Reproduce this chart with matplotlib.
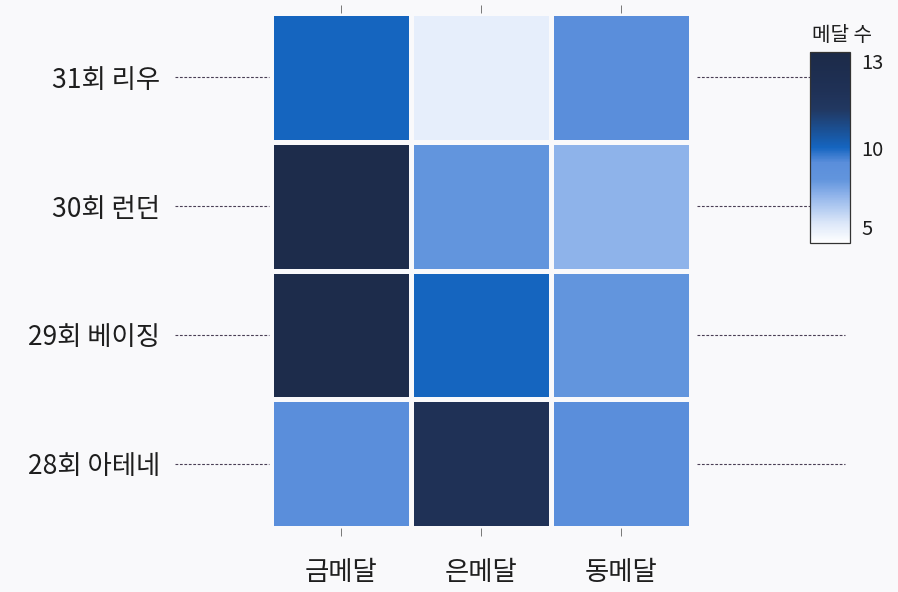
import numpy as np
import matplotlib.pyplot as plt
from matplotlib.colors import LinearSegmentedColormap, TwoSlopeNorm
from matplotlib.transforms import blended_transform_factory

plt.rcParams['font.family'] = ['Noto Sans CJK KR', 'DejaVu Sans']

games = ['28회 아테네', '29회 베이징', '30회 런던', '31회 리우']
medals = ['금메달', '은메달', '동메달']
# rows follow games (bottom to top), columns follow medals
gold = [9, 13, 13, 10]
silver = [12, 10, 8, 3]
bronze = [9, 8, 7, 9]

counts = np.array([gold, silver, bronze]).T

cmap = LinearSegmentedColormap.from_list(
    'medal', [(0.0, '#ffffff'), (0.1, '#dde8f9'), (0.25, '#8fb3ea'),
              (0.33, '#6295dd'), (0.42, '#5a8edb'), (0.5, '#1565c0'),
              (0.7, '#213861'), (0.8, '#1f3156'), (1.0, '#1c2a48')])
cmap.set_under('#e6eefb')
norm = TwoSlopeNorm(vmin=4, vcenter=10, vmax=13.3)

bg = '#f9f9fb'
fig = plt.figure(figsize=(8.98, 5.92), dpi=100, facecolor=bg)
ax = fig.add_axes([0.3018, 0.108, 0.4677, 0.870])
ax.set_facecolor(bg)

mesh = ax.pcolormesh(np.arange(len(medals) + 1) - 0.5, np.arange(len(games) + 1) - 0.5,
                     counts, cmap=cmap, norm=norm, edgecolors=bg, linewidth=2.2)
ax.set_xlim(-0.5, len(medals) - 0.5)
ax.set_ylim(-0.5, len(games) - 0.5)
for s in ax.spines.values():
    s.set_visible(False)

ax.set_xticks(range(len(medals)), medals, fontsize=19, color='#1e1e1e')
ax.tick_params(axis='x', top=True, bottom=True, length=6, width=0.7,
               color='#777777', pad=16)
ax.set_yticks(range(len(games)), games, fontsize=19, color='#1e1e1e')
ax.tick_params(axis='y', length=0, pad=80)

# dashed guide lines beside each row
tr = blended_transform_factory(ax.transAxes, ax.transData)
for i in range(len(games)):
    ax.plot([-0.229, -0.004], [i, i], transform=tr, clip_on=False,
            color='#4a3f55', lw=0.8, dashes=(2.5, 1.5))
    ax.plot([1.014, 1.367], [i, i], transform=tr, clip_on=False,
            color='#4a3f55', lw=0.8, dashes=(2.5, 1.5))

cax = fig.add_axes([0.902, 0.5895, 0.0445, 0.3226], zorder=5)
cb = fig.colorbar(mesh, cax=cax, ticks=[5, 10, 13])
cb.outline.set_edgecolor('#333333')
cb.outline.set_linewidth(0.9)
cax.tick_params(length=0, labelsize=14.5, pad=8, colors='#1e1e1e')
cax.set_title('메달 수', fontsize=14.5, color='#1e1e1e', pad=8, x=0.8)

fig.savefig('out.png', dpi=100, facecolor=bg)
